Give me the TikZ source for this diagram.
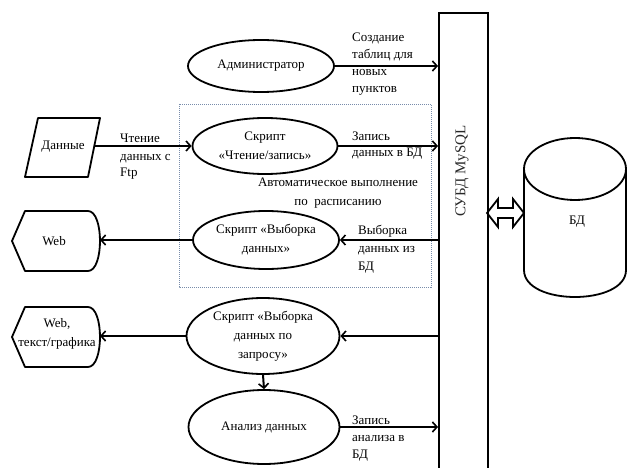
\documentclass[tikz,border=0pt]{standalone}
\usepackage{fontspec}
\setmainfont{Liberation Serif}
\usetikzlibrary{shapes.geometric,arrows.meta}
\definecolor{boxblue}{RGB}{120,140,170}
\definecolor{txtgray}{RGB}{40,40,40}
\tikzset{
  every node/.style={font=\fontsize{13pt}{19pt}\selectfont, inner sep=0pt},
  oval/.style={ellipse, draw, line width=1.8pt, align=center},
  shp/.style={draw, line width=1.8pt, line join=round},
  arr/.style={line width=2pt, -{Straight Barb[length=4.5pt,width=10pt,line width=1.6pt]}},
  lbl/.style={anchor=base west, align=left, font=\fontsize{13pt}{17pt}\selectfont},
}
\begin{document}
\begin{tikzpicture}[x=1pt,y=-1pt]
\useasboundingbox (0,0) rectangle (627,468);
\clip (0,0) rectangle (627,468);
% dashed group box
\draw[boxblue, line width=0.8pt, dash pattern=on 1pt off 1pt] (179,104) rectangle (431,287);
% DBMS column
\node (db) [draw, line width=2pt, minimum width=49pt, minimum height=470pt, anchor=north west] at (438,12) {};
\node (dbtxt) [rotate=90, text=txtgray, font=\fontsize{15pt}{18pt}\selectfont] at (462,171) {СУБД MySQL};
% database cylinder
\draw[shp] (575,169) ellipse [x radius=51, y radius=31];
\draw[shp] (524,169) -- (524,270) .. controls (524,306) and (626,306) .. (626,270) -- (626,169);
\node (bd) at (577,222) {БД};
% double block arrow
\coordinate (da) at (487,213);
\coordinate (db2) at (524,213);
\draw[line width=1.8pt, line join=miter] (da) -- ++(11,-14) -- ++(0,9) -- ++(15,0) -- ++(0,-9) -- (db2)
  -- ++(-11,14) -- ++(0,-9) -- ++(-15,0) -- ++(0,9) -- cycle;
% ellipses
\node (adm) [oval, minimum width=146pt, minimum height=52pt] at (261,66) {Администратор};
\node (rw)  [oval, minimum width=145pt, minimum height=56pt] at (265,146) {Скрипт\\«Чтение/запись»};
\node (sel) [oval, minimum width=146pt, minimum height=58pt] at (266,240) {Скрипт «Выборка\\данных»};
\node (req) [oval, minimum width=153pt, minimum height=76pt] at (263,336) {Скрипт «Выборка\\данных по\\запросу»};
\node (ana) [oval, minimum width=151pt, minimum height=74pt] at (264,427) {Анализ данных};
% Data parallelogram
\draw[shp] (38,118) -- (100,118) -- (88,177) -- (25,177) -- cycle;
\node (data) at (63,147) {Данные};
\coordinate (dataR) at (94,146);
% Web displays
\draw[shp] (12,241) -- (25,211) -- (88,211) .. controls (104,211) and (104,271) .. (88,271) -- (25,271) -- cycle;
\node (web) at (54,241) {Web};
\coordinate (webR) at (100,241);
\draw[shp] (12,337) -- (25,307) -- (88,307) .. controls (104,307) and (104,367) .. (88,367) -- (25,367) -- cycle;
\node (web2) [align=center] at (57,334) {Web,\\текст/графика};
\coordinate (web2R) at (100,336);
% connectors
\draw[arr] (dataR) -- (rw.west);
\draw[arr] (adm.east) -- (adm.east -| db.west);
\draw[arr] (rw.east) -- (rw.east -| db.west);
\draw[arr] (sel.east -| db.west) -- (sel.east);
\draw[arr] (sel.west) -- (sel.west -| webR);
\draw[arr] (req.east -| db.west) -- (req.east);
\draw[arr] (req.west) -- (req.west -| web2R);
\draw[arr] (req.south) -- (ana.north);
\draw[arr] (ana.east) -- (ana.east -| db.west);
% labels
\node (l1) [lbl] at (120,177) {Чтение\\данных с\\Ftp};
\node (l2) [lbl] at (352,93) {Создание\\таблиц для\\новых\\пунктов};
\node (l3) [lbl, font=\fontsize{13pt}{16pt}\selectfont] at (352,157) {Запись\\данных в БД};
\node (l4) [align=center, anchor=base] at (338,206) {Автоматическое выполнение\\по\ \ расписанию};
\node (l5) [lbl, font=\fontsize{13pt}{18pt}\selectfont] at (358,270) {Выборка\\данных из\\БД};
\node (l6) [lbl] at (352,458) {Запись\\анализа в\\БД};
\end{tikzpicture}
\end{document}
